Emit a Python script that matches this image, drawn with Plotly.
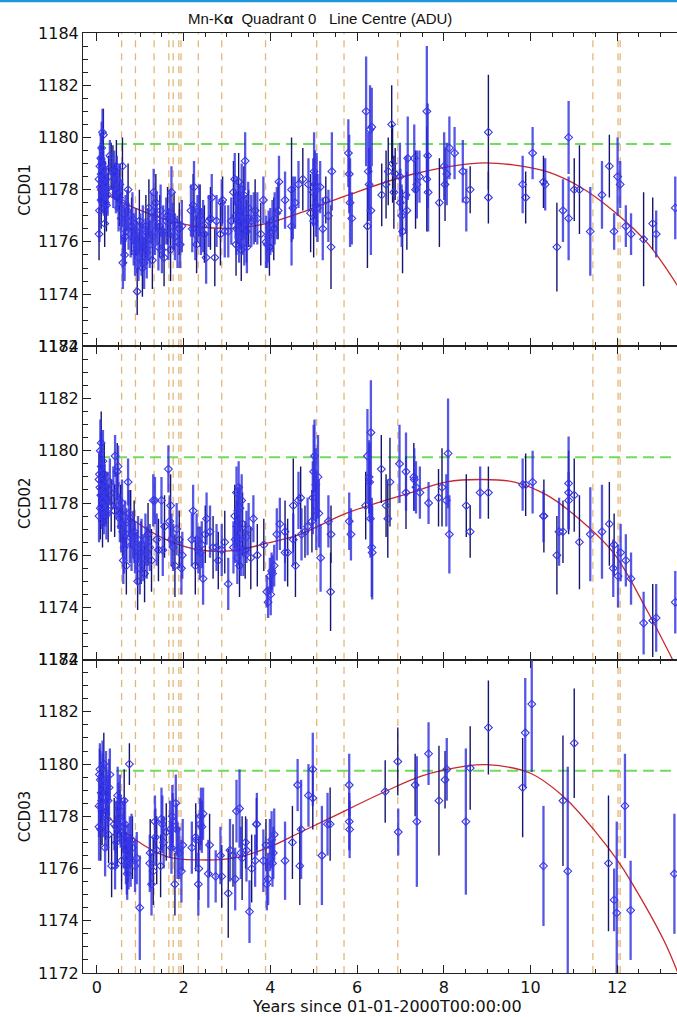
import plotly.graph_objects as go

# ---------------- data ----------------
X_RANGE = [-0.32, 13.38]
Y_RANGE = [1172, 1184]
reference_level = 1179.75
event_times = [0.57, 0.89, 1.32, 1.66, 1.76, 1.89, 1.94, 2.34, 2.88, 3.89,
               5.07, 5.70, 6.94, 11.44, 12.02, 12.07]
x_ticks = [0, 2, 4, 6, 8, 10, 12]
y_ticks = [1172, 1174, 1176, 1178, 1180, 1182, 1184]
panel_names = ["CCD01", "CCD02", "CCD03"]

# CCD01 -- set A
ccd01_a_t = [0.05, 0.06, 0.07, 0.08, 0.09, 0.10, 0.11, 0.12, 0.13, 0.14, 0.15, 0.16, 0.17, 0.19, 0.20, 0.22, 0.25, 0.30,
             0.38, 0.40, 0.42, 0.44, 0.46, 0.48, 0.50, 0.53, 0.56, 0.58, 0.60, 0.62, 0.64, 0.66, 0.70, 0.73,
             0.78, 0.82, 0.85, 0.88, 0.90, 0.93, 0.96, 1.00, 1.03, 1.06, 1.09, 1.12, 1.15, 1.18, 1.22, 1.26, 1.29,
             1.31, 1.34, 1.38, 1.42, 1.47, 1.50, 1.53, 1.60, 1.65, 1.68, 1.72, 1.75, 1.80, 1.86, 1.92, 1.96,
             2.17, 2.20, 2.24, 2.27, 2.32, 2.36, 2.40, 2.45, 2.52, 2.58, 2.65, 2.76, 2.88, 2.95,
             3.03, 3.10, 3.18, 3.20, 3.22, 3.24, 3.26, 3.28, 3.30, 3.32, 3.34, 3.36, 3.38, 3.40, 3.42, 3.44, 3.46, 3.49,
             3.56, 3.62, 3.70, 3.84, 3.90, 3.93, 3.96, 4.00, 4.05, 4.10, 4.15, 4.20,
             4.34, 4.49, 4.52, 4.57, 4.65, 4.88, 4.99, 5.01, 5.03, 5.05, 5.07, 5.09, 5.15, 5.21, 5.34, 5.42,
             5.80, 5.82, 5.84, 5.88, 6.21, 6.26, 6.28, 6.30, 6.32, 6.34,
             6.99, 7.00, 7.03, 7.13, 7.17, 7.32, 7.38, 7.44, 7.61, 7.63, 7.64,
             8.01, 8.07, 8.13, 8.25, 8.44, 8.52, 9.82, 10.05, 10.34, 10.75, 10.88, 10.88, 11.38,
             11.65, 11.93, 12.01, 12.07, 12.20, 12.32, 12.90, 13.34]
ccd01_a_v = [1178.4, 1177.2, 1178.9, 1178.1, 1179.2, 1178.6, 1179.6, 1178.3, 1180.2, 1178.0, 1178.8, 1177.8, 1178.5, 1178.2, 1177.5, 1178.0, 1177.8, 1179.3,
             1178.1, 1178.6, 1178.3, 1177.9, 1178.4, 1178.0, 1177.3, 1178.2, 1176.9, 1177.5, 1175.2, 1176.5, 1175.5, 1176.9, 1177.2, 1176.6,
             1176.3, 1176.9, 1176.1, 1175.6, 1176.4, 1175.8, 1175.4, 1176.1, 1175.7, 1176.5, 1175.2, 1176.0, 1175.6, 1176.3, 1175.9, 1176.9, 1176.2,
             1177.9, 1176.4, 1176.9, 1175.8, 1177.2, 1175.7, 1176.4, 1176.8, 1176.3, 1177.1, 1177.9, 1176.6, 1176.2, 1176.0, 1175.9, 1176.6,
             1177.2, 1176.5, 1178.1, 1176.3, 1176.9, 1177.2, 1176.4, 1176.6, 1175.4, 1176.8, 1177.7, 1176.8, 1177.5, 1176.4,
             1176.4, 1176.8, 1178.4, 1177.0, 1176.5, 1177.6, 1176.9, 1176.2, 1177.3, 1176.7, 1178.0, 1176.4, 1177.1, 1176.0, 1179.1, 1176.8, 1175.8, 1177.3,
             1176.8, 1176.9, 1176.9, 1177.6, 1176.0, 1175.9, 1176.2, 1176.4, 1176.6, 1176.9, 1177.1, 1178.3,
             1177.6, 1176.6, 1177.3, 1177.5, 1178.2, 1178.2, 1177.9, 1178.7, 1178.2, 1177.4, 1178.0, 1177.3, 1178.1, 1176.5, 1177.0, 1178.7,
             1179.4, 1178.6, 1177.5, 1176.9, 1181.0, 1178.7, 1178.2, 1180.3, 1177.2, 1180.4,
             1178.5, 1177.5, 1177.0, 1177.8, 1179.2, 1179.2, 1178.2, 1178.5, 1181.0, 1179.3, 1177.9,
             1178.9, 1178.6, 1179.6, 1179.4, 1178.7, 1177.6, 1178.2, 1179.4, 1178.2, 1177.2, 1180.0, 1176.9, 1176.4,
             1177.8, 1176.4, 1178.5, 1178.2, 1176.6, 1176.3, 1176.3, 1177.3]
ccd01_a_e = [0.9, 1.2, 0.8, 0.9, 0.9, 0.8, 1.0, 0.8, 0.9, 0.9, 0.7, 0.8, 0.7, 0.9, 0.8, 0.9, 0.8, 0.6,
             0.8, 0.9, 0.7, 0.8, 0.9, 0.8, 0.9, 0.8, 1.0, 0.9, 1.0, 0.9, 1.0, 0.9, 0.8, 0.9,
             0.9, 1.0, 1.0, 0.9, 0.9, 1.0, 0.9, 1.0, 1.0, 0.9, 1.0, 0.9, 1.0, 1.0, 0.9, 1.0, 0.9,
             0.9, 0.9, 1.0, 0.9, 1.0, 0.9, 1.0, 0.9, 1.0, 0.9, 1.0, 0.9, 0.9, 1.0, 0.9, 1.0,
             1.0, 0.9, 1.0, 1.0, 0.9, 1.0, 0.9, 1.0, 1.0, 1.0, 0.9, 1.0, 0.9, 1.0,
             1.0, 0.9, 1.0, 0.9, 1.0, 0.9, 1.0, 1.0, 0.9, 1.0, 1.0, 0.9, 1.0, 0.9, 1.1, 1.0, 1.0, 1.0,
             1.0, 1.0, 1.0, 0.9, 1.0, 0.9, 1.0, 0.9, 1.0, 1.0, 1.0, 1.0,
             1.1, 1.5, 1.2, 1.0, 0.9, 1.0, 1.3, 1.5, 1.3, 1.2, 1.4, 1.3, 1.0, 1.2, 1.0, 1.5,
             1.3, 1.5, 1.7, 1.0, 2.1, 1.5, 1.4, 1.7, 1.7, 1.5,
             1.3, 1.3, 1.2, 1.5, 1.6, 1.3, 1.3, 1.0, 2.5, 2.0, 1.5,
             1.3, 1.2, 1.2, 1.0, 1.2, 1.2, 1.1, 1.0, 1.0, 1.2, 1.4, 1.6, 1.7,
             1.3, 0.7, 1.5, 0.9, 0.8, 0.8, 0.9, 1.2]
# CCD01 -- set B
ccd01_b_t = [0.05, 0.10, 0.12, 0.15, 0.18, 0.22, 0.27, 0.33, 0.37, 0.45, 0.52, 0.59, 0.65, 0.72, 0.80, 0.93, 0.98,
             1.05, 1.13, 1.20, 1.28, 1.36, 1.45, 1.55, 1.63, 1.70, 1.78, 1.90, 2.22, 2.30, 2.38, 2.48, 2.62, 2.72,
             2.85, 2.90, 3.15, 3.21, 3.27, 3.33, 3.39, 3.45, 3.50, 3.65, 3.78, 3.98, 4.08, 4.18, 4.49, 4.75, 4.93,
             5.00, 5.28, 5.40, 6.24, 6.57, 6.67, 6.72, 6.80, 6.82, 6.85, 6.88, 7.05, 7.15, 7.35, 7.61, 7.90, 8.03,
             8.61, 9.03, 9.03, 9.89, 10.30, 10.61, 11.01, 11.13, 11.82, 12.61, 12.82]
ccd01_b_v = [1176.3, 1177.6, 1179.0, 1180.1, 1176.7, 1177.4, 1178.5, 1178.9, 1178.7, 1178.9, 1177.7, 1178.9, 1176.2, 1178.0, 1176.6, 1174.1, 1176.8,
             1175.0, 1176.6, 1177.3, 1175.3, 1177.5, 1176.6, 1175.4, 1177.0, 1175.7, 1176.8, 1176.5, 1177.4, 1175.9, 1177.0, 1176.3, 1176.9, 1175.4,
             1176.3, 1177.6, 1177.9, 1175.9, 1178.3, 1175.7, 1177.8, 1176.4, 1176.9, 1177.2, 1176.3, 1175.8, 1176.5, 1177.2, 1178.0, 1178.4, 1177.1,
             1176.8, 1177.6, 1175.8, 1176.6, 1177.8, 1178.2, 1178.7, 1180.5, 1179.0, 1177.9, 1178.6, 1176.4, 1177.2, 1178.0, 1178.4, 1177.5, 1178.2,
             1178.0, 1180.2, 1177.7, 1177.7, 1178.3, 1175.8, 1178.0, 1178.0, 1178.9, 1176.1, 1176.7]
ccd01_b_e = [1.0, 1.1, 1.0, 1.0, 0.9, 1.0, 0.8, 0.9, 1.0, 1.0, 1.1, 1.1, 1.1, 1.0, 1.1, 0.9, 1.2,
             1.1, 1.2, 1.1, 1.1, 1.1, 1.2, 1.1, 1.1, 1.2, 1.1, 1.0, 1.2, 1.1, 1.2, 1.1, 1.2, 1.1,
             1.2, 0.9, 1.2, 1.2, 1.1, 1.2, 1.1, 1.2, 1.1, 1.2, 1.2, 1.1, 1.2, 1.1, 2.0, 1.2, 1.5,
             1.4, 0.9, 1.6, 1.6, 1.2, 1.3, 1.3, 1.5, 1.5, 1.4, 1.0, 1.6, 1.5, 1.5, 2.0, 1.7, 1.4,
             0.9, 2.2, 1.0, 1.0, 1.0, 1.7, 1.2, 1.7, 1.2, 1.8, 1.0]
ccd01_fit_t = [0.0, 0.8, 1.6, 2.4, 3.2, 3.9, 4.7, 5.8, 7.3, 8.8, 9.6, 10.4, 11.15, 11.9, 12.7, 13.4]
ccd01_fit_v = [1178.0, 1177.35, 1176.85, 1176.57, 1176.53, 1176.7, 1177.12, 1177.8, 1178.6, 1179.02,
               1178.95, 1178.68, 1178.1, 1177.2, 1175.95, 1174.3]

# CCD02 -- set A
ccd02_a_t = [0.05, 0.06, 0.07, 0.08, 0.09, 0.10, 0.11, 0.12, 0.13, 0.14, 0.15, 0.16, 0.18, 0.20, 0.22, 0.25, 0.30,
             0.38, 0.42, 0.45, 0.49, 0.50, 0.53, 0.56, 0.58, 0.61, 0.63, 0.65, 0.68, 0.72, 0.74, 0.76, 0.80, 0.84,
             0.88, 0.92, 0.95, 0.99, 1.03, 1.07, 1.12, 1.15, 1.22, 1.30, 1.34, 1.38, 1.49, 1.52, 1.65, 1.68, 1.72,
             1.76, 1.84, 1.95, 1.97, 2.19, 2.22, 2.30, 2.34, 2.38, 2.42, 2.45, 2.53, 2.61, 2.76, 2.88, 3.03, 3.15,
             3.19, 3.22, 3.23, 3.24, 3.25, 3.27, 3.28, 3.30, 3.32, 3.34, 3.38, 3.45, 3.50, 3.61, 3.92, 3.95, 3.99,
             4.01, 4.03, 4.05, 4.09, 4.15, 4.22, 4.34, 4.53, 4.65, 4.72, 4.86, 4.98, 5.00, 5.02, 5.05, 5.06, 5.10,
             5.12, 5.16, 5.34, 5.82, 5.86, 6.24, 6.28, 6.29, 6.32, 6.31, 6.34, 6.35, 6.98, 7.13, 7.32, 7.36, 7.45,
             7.65, 8.06, 8.10, 8.13, 8.84, 9.82, 10.05, 10.30, 10.66, 10.88, 10.88, 11.38, 11.65, 11.91, 12.02,
             12.08, 12.20, 12.32, 12.61, 12.90, 13.34]
ccd02_a_v = [1177.5, 1179.1, 1178.6, 1180.0, 1178.3, 1179.4, 1178.8, 1177.9, 1178.4, 1179.6, 1178.1, 1177.7, 1178.5, 1178.0, 1177.6, 1178.3, 1178.8,
             1178.6, 1179.8, 1178.3, 1179.4, 1177.9, 1177.4, 1177.1, 1178.0, 1175.8, 1176.3, 1177.2, 1176.8, 1178.8, 1177.6, 1176.7, 1176.4, 1176.8,
             1176.3, 1175.9, 1176.6, 1175.5, 1176.4, 1175.9, 1176.6, 1176.1, 1176.3, 1178.1, 1178.1, 1176.6, 1178.1, 1176.2, 1179.3, 1177.3, 1176.6,
             1176.3, 1177.0, 1175.5, 1176.0, 1176.6, 1177.7, 1176.6, 1176.2, 1176.1, 1176.4, 1175.1, 1177.4, 1176.9, 1176.3, 1176.2, 1174.9, 1176.3,
             1176.6, 1178.4, 1177.1, 1175.9, 1177.7, 1178.6, 1176.6, 1177.8, 1176.2, 1178.1, 1176.1, 1176.7, 1177.0, 1177.4, 1174.6, 1174.2, 1175.2,
             1174.5, 1175.4, 1175.3, 1175.6, 1176.8, 1177.2, 1176.1, 1176.6, 1178.1, 1176.8, 1177.1, 1178.2, 1179.2, 1179.8, 1178.7, 1177.7, 1179.0,
             1177.6, 1175.9, 1177.3, 1177.3, 1176.8, 1179.8, 1179.0, 1178.8, 1180.7, 1177.4, 1176.3, 1176.1, 1179.5, 1179.2, 1178.9, 1178.6, 1178.4,
             1178.0, 1178.1, 1179.9, 1176.8, 1178.4, 1178.7, 1178.8, 1177.5, 1176.9, 1178.1, 1178.75, 1176.8, 1176.9, 1175.5, 1175.2,
             1176.1, 1175.8, 1175.1, 1173.4, 1173.6, 1174.2]
ccd02_a_e = [1.0, 0.9, 1.0, 1.2, 0.9, 1.3, 1.0, 0.9, 1.1, 1.2, 1.0, 0.9, 1.0, 0.9, 1.0, 0.9, 0.9,
             0.8, 0.8, 0.9, 0.8, 0.9, 0.9, 1.0, 0.9, 0.9, 1.0, 0.9, 1.0, 0.9, 0.9, 1.0, 1.0, 0.9,
             1.0, 1.0, 0.9, 1.0, 1.0, 0.9, 1.0, 1.0, 0.9, 1.0, 0.9, 1.0, 0.9, 1.0, 0.9, 1.0, 1.0,
             0.9, 1.0, 1.0, 0.9, 1.0, 1.0, 1.0, 0.9, 1.0, 0.9, 1.0, 1.0, 1.0, 0.9, 1.0, 1.0, 1.0,
             0.9, 1.0, 1.0, 1.0, 0.9, 1.0, 1.0, 0.9, 1.0, 1.0, 0.9, 1.0, 1.0, 0.9, 0.6, 0.6, 0.7,
             0.8, 0.7, 0.7, 0.8, 1.0, 1.0, 1.1, 1.0, 1.1, 1.0, 1.1, 1.4, 1.8, 1.4, 1.4, 1.5, 1.6,
             1.3, 1.3, 1.0, 1.1, 1.0, 1.8, 1.4, 1.5, 2.0, 1.5, 1.9, 1.8, 1.5, 1.5, 1.2, 1.0, 1.0,
             0.8, 1.0, 2.1, 1.5, 1.0, 1.0, 1.2, 1.0, 1.3, 1.1, 1.8, 1.8, 1.8, 1.1, 1.2,
             1.1, 1.0, 1.0, 1.2, 1.3, 1.2]
# CCD02 -- set B
ccd02_b_t = [0.05, 0.08, 0.10, 0.13, 0.17, 0.21, 0.26, 0.33, 0.41, 0.47, 0.55, 0.60, 0.68, 0.78, 0.86, 0.94, 1.02,
             1.10, 1.18, 1.26, 1.42, 1.56, 1.70, 1.80, 1.90, 2.27, 2.50, 2.68, 2.80, 2.95, 3.18, 3.29, 3.36, 3.42,
             3.55, 3.70, 3.85, 4.34, 4.40, 4.53, 4.58, 4.70, 4.80, 4.96, 5.40, 5.39, 6.20, 6.56, 6.67, 6.71, 6.76,
             7.13, 7.31, 7.88, 7.96, 8.52, 8.61, 9.03, 9.89, 10.31, 10.61, 10.75, 10.88, 11.01, 11.13, 11.82, 11.93, 12.82]
ccd02_b_v = [1178.9, 1177.8, 1180.3, 1177.3, 1179.1, 1178.2, 1177.6, 1177.9, 1177.7, 1179.2, 1177.6, 1176.9, 1175.6, 1177.4, 1176.9, 1175.0, 1176.1,
             1175.3, 1176.8, 1175.8, 1176.2, 1177.1, 1177.9, 1175.6, 1176.6, 1175.6, 1176.8, 1176.3, 1175.8, 1176.5, 1177.5, 1175.6, 1177.2, 1176.2,
             1175.9, 1176.0, 1176.4, 1176.9, 1176.1, 1177.9, 1175.6, 1178.2, 1176.9, 1177.3, 1176.8, 1174.6, 1177.9, 1179.3, 1177.9, 1177.4, 1178.8,
             1178.4, 1179.0, 1178.2, 1178.6, 1177.9, 1176.9, 1178.4, 1178.7, 1177.5, 1176.0, 1176.9, 1178.4, 1178.3, 1176.5, 1177.2, 1176.4, 1173.5]
ccd02_b_e = [1.0, 1.2, 1.2, 1.0, 1.2, 1.0, 1.1, 1.0, 1.0, 1.1, 1.1, 1.0, 1.1, 1.1, 1.2, 1.1, 1.2,
             1.1, 1.2, 1.2, 1.2, 1.2, 1.2, 1.2, 1.1, 1.1, 1.1, 1.2, 1.1, 1.2, 1.2, 1.2, 1.2, 1.1,
             1.2, 1.2, 1.0, 1.2, 1.3, 1.8, 1.2, 1.2, 1.0, 1.2, 1.1, 1.5, 1.3, 1.3, 1.2, 1.5, 1.7,
             1.4, 1.3, 1.1, 1.5, 1.2, 1.0, 1.0, 1.2, 1.4, 1.5, 1.2, 1.6, 1.4, 1.8, 1.6, 1.2, 1.4]
ccd02_fit_t = [0.0, 0.84, 1.61, 2.38, 3.15, 3.92, 4.68, 5.76, 7.3, 8.07, 8.84, 9.61, 10.38, 11.15, 11.92, 12.68, 13.4]
ccd02_fit_v = [1178.55, 1177.35, 1176.59, 1176.2, 1176.18, 1176.46, 1176.8, 1177.61, 1178.43, 1178.81,
               1178.9, 1178.81, 1178.3, 1177.35, 1176.08, 1173.91, 1171.6]

# CCD03 -- set A
ccd03_a_t = [0.05, 0.05, 0.07, 0.08, 0.10, 0.11, 0.13, 0.14, 0.15, 0.19, 0.21, 0.22, 0.24, 0.26, 0.28, 0.30,
             0.42, 0.44, 0.45, 0.48, 0.50, 0.52, 0.53, 0.55, 0.61, 0.62, 0.65, 0.66, 0.67, 0.69, 0.70, 0.72, 0.73,
             0.76, 0.78, 0.80, 0.88, 0.92, 0.99, 1.22, 1.26, 1.34, 1.35, 1.49, 1.51, 1.54, 1.69, 1.72, 1.74, 1.75,
             1.82, 1.84, 1.86, 1.90, 1.95, 1.98, 2.19, 2.29, 2.34, 2.38, 2.40, 2.42, 2.45, 2.57, 2.74, 2.85, 3.07,
             3.19, 3.22, 3.29, 3.32, 3.45, 3.52, 3.65, 3.69, 3.84, 3.92, 3.95, 3.99, 4.03, 4.05, 4.07, 4.09, 4.34,
             4.63, 4.71, 4.88, 4.98, 5.19, 5.32, 5.82, 5.82, 5.83, 6.95, 7.38, 7.65, 8.07, 8.51, 9.88, 10.03,
             10.30, 10.86, 11.93, 11.99, 12.18, 12.31, 13.32]
ccd03_a_v = [1178.4, 1177.6, 1179.8, 1179.4, 1178.9, 1178.6, 1179.9, 1179.3, 1178.4, 1176.8, 1179.4, 1178.9, 1177.9, 1178.6, 1179.1, 1179.6,
             1176.1, 1177.6, 1177.0, 1178.8, 1178.3, 1178.0, 1178.5, 1177.8, 1177.6, 1177.1, 1177.7, 1176.8, 1176.4, 1176.1, 1175.8, 1176.6, 1176.2,
             1177.0, 1176.3, 1177.1, 1176.1, 1176.4, 1174.5, 1176.2, 1175.4, 1177.8, 1177.2, 1177.9, 1177.7, 1177.0, 1177.5, 1176.8, 1178.0, 1177.8,
             1178.5, 1177.5, 1176.7, 1176.6, 1175.9, 1176.9, 1176.8, 1177.1, 1175.4, 1177.7, 1178.0, 1177.6, 1178.1, 1175.8, 1175.7, 1176.5, 1176.7,
             1175.6, 1178.2, 1178.3, 1176.6, 1176.7, 1174.35, 1176.3, 1177.7, 1176.3, 1175.4, 1175.6, 1176.9, 1177.1, 1176.2, 1176.6, 1177.3, 1176.3,
             1179.2, 1177.5, 1178.8, 1179.8, 1176.5, 1177.7, 1179.2, 1177.8, 1177.5, 1177.4, 1177.8, 1180.4, 1179.8, 1177.8, 1181.2, 1182.3,
             1176.1, 1175.9, 1174.8, 1174.3, 1178.4, 1174.4, 1175.8]
ccd03_a_e = [1.2, 1.3, 1.0, 1.1, 1.0, 1.2, 1.0, 1.1, 1.2, 1.1, 1.1, 1.0, 1.2, 1.0, 1.1, 1.0,
             0.9, 1.0, 1.0, 1.1, 1.0, 1.0, 1.1, 1.0, 1.0, 1.1, 1.0, 1.0, 1.0, 1.1, 1.0, 1.1, 1.0,
             1.0, 1.0, 1.0, 1.0, 1.0, 2.0, 1.1, 1.2, 1.0, 1.1, 1.2, 1.1, 1.0, 1.1, 1.0, 1.2, 1.1,
             1.1, 1.0, 1.1, 1.0, 1.2, 1.0, 1.0, 1.0, 1.2, 1.0, 1.1, 1.0, 1.0, 1.3, 1.0, 1.1, 1.2,
             1.2, 1.2, 1.5, 1.0, 1.2, 1.2, 1.0, 1.2, 1.2, 1.0, 1.0, 1.0, 1.1, 0.9, 1.0, 1.0, 1.5,
             1.0, 1.9, 1.2, 1.4, 1.9, 1.2, 1.2, 1.1, 1.1, 0.9, 2.5, 1.2, 1.2, 2.8, 2.1, 2.6,
             2.3, 4.0, 1.2, 3.5, 2.0, 1.9, 2.3]
# CCD03 -- set B
ccd03_b_t = [0.06, 0.09, 0.12, 0.16, 0.20, 0.27, 0.34, 0.40, 0.47, 0.57, 0.63, 0.75, 0.82, 1.23, 1.30, 1.38, 1.47,
             1.60, 1.80, 2.28, 2.35, 2.60, 2.88, 3.03, 3.14, 3.35, 3.43, 3.57, 3.68, 3.90, 4.51, 4.68, 4.98, 5.38,
             6.65, 6.94, 7.34, 7.89, 8.03, 8.61, 9.03, 9.82, 10.75, 11.01, 11.80]
ccd03_b_v = [1179.6, 1177.5, 1178.2, 1180.0, 1178.1, 1177.3, 1176.1, 1177.7, 1177.3, 1176.3, 1178.6, 1180.0, 1176.8, 1176.6, 1175.9, 1176.7, 1176.1,
             1177.4, 1175.4, 1177.2, 1176.0, 1176.9, 1175.7, 1175.05, 1176.5, 1176.4, 1177.0, 1176.0, 1177.7, 1176.9, 1177.0, 1176.1, 1178.7, 1177.7,
             1178.95, 1180.1, 1179.2, 1178.6, 1179.4, 1179.85, 1181.4, 1179.1, 1178.6, 1180.8, 1176.2]
ccd03_b_e = [1.0, 1.2, 1.3, 1.2, 1.0, 1.1, 1.2, 1.0, 1.2, 1.1, 1.2, 0.8, 1.2, 1.3, 1.3, 1.3, 1.2,
             1.1, 1.2, 1.3, 1.2, 1.2, 1.2, 1.7, 1.2, 1.6, 1.0, 1.3, 1.0, 1.0, 1.4, 1.5, 1.2, 1.4,
             1.2, 1.3, 1.2, 2.1, 1.1, 1.6, 1.8, 1.9, 2.5, 2.1, 2.6]
ccd03_fit_t = [0.0, 0.84, 1.61, 2.38, 3.15, 3.92, 4.68, 5.4, 6.65, 7.5, 8.5, 9.0, 10.0, 10.76, 11.53, 12.0, 12.3, 13.07, 13.4]
ccd03_fit_v = [1178.4, 1177.16, 1176.46, 1176.33, 1176.4, 1176.78, 1177.38, 1177.95, 1178.95, 1179.55, 1179.92,
               1179.98, 1179.65, 1178.76, 1177.35, 1176.33, 1175.56, 1173.27, 1172.0]

# ---------------- figure ----------------
FONT = "DejaVu Sans"
TITLE_FONT = "Liberation Sans"
AXIS_COLOR = "#222222"
panels = [
    (ccd01_a_t, ccd01_a_v, ccd01_a_e, ccd01_b_t, ccd01_b_v, ccd01_b_e, ccd01_fit_t, ccd01_fit_v),
    (ccd02_a_t, ccd02_a_v, ccd02_a_e, ccd02_b_t, ccd02_b_v, ccd02_b_e, ccd02_fit_t, ccd02_fit_v),
    (ccd03_a_t, ccd03_a_v, ccd03_a_e, ccd03_b_t, ccd03_b_v, ccd03_b_e, ccd03_fit_t, ccd03_fit_v),
]
domains = [[2 / 3, 1.0], [1 / 3, 2 / 3], [0.0, 1 / 3]]

fig = go.Figure()
layout = dict(
    width=677, height=1017,
    margin=dict(l=83, r=0, t=33, b=44),
    paper_bgcolor="white", plot_bgcolor="white",
    showlegend=False,
    font=dict(family=FONT, size=15, color="#111111"),
)

shapes = []
annotations = []
for i, (at, av, ae, bt, bv, be, ft, fv) in enumerate(panels):
    sfx = "" if i == 0 else str(i + 1)
    xa, ya = "x" + sfx, "y" + sfx
    fig.add_trace(go.Scatter(x=ft, y=fv, mode="lines", xaxis=xa, yaxis=ya,
                             line=dict(color="#c8282c", width=1.3, shape="spline", smoothing=1.0),
                             hoverinfo="skip"))
    fig.add_trace(go.Scatter(x=bt, y=bv, mode="markers", xaxis=xa, yaxis=ya,
                             marker=dict(symbol="diamond-open", size=6, color="#3a3ae6", line=dict(width=1.1)),
                             error_y=dict(type="data", array=be, visible=True, width=0,
                                          thickness=1.4, color="#15156e")))
    fig.add_trace(go.Scatter(x=at, y=av, mode="markers", xaxis=xa, yaxis=ya,
                             marker=dict(symbol="diamond-open", size=6, color="#3a3ae6", line=dict(width=1.1)),
                             error_y=dict(type="data", array=ae, visible=True, width=0,
                                          thickness=2.3, color="rgba(45,45,225,0.8)")))
    last = (i == 2)
    layout["xaxis" + sfx] = dict(
        domain=[0, 1], anchor=ya, range=X_RANGE, tickvals=x_ticks,
        showticklabels=last, ticks="inside", ticklen=8, tickwidth=1, tickcolor=AXIS_COLOR,
        minor=dict(dtick=0.5, tick0=0, ticks="inside", ticklen=4, tickwidth=1, tickcolor=AXIS_COLOR),
        showline=True, linecolor=AXIS_COLOR, linewidth=1, mirror="ticks",
        showgrid=False, zeroline=False, tickfont=dict(size=16, family=FONT, color="#111111"),
        ticklabelstandoff=0,
    )
    if not last:
        layout["xaxis" + sfx]["matches"] = "x3"
    layout["yaxis" + sfx] = dict(
        domain=domains[i], anchor=xa, range=Y_RANGE, tickvals=y_ticks,
        ticks="inside", ticklen=8, tickwidth=1, tickcolor=AXIS_COLOR,
        minor=dict(dtick=0.5, tick0=1172, ticks="inside", ticklen=5, tickwidth=1, tickcolor=AXIS_COLOR),
        showline=True, linecolor=AXIS_COLOR, linewidth=1, mirror=False,
        showgrid=False, zeroline=False, tickfont=dict(size=16, family=FONT, color="#111111"),
    )
    for t in event_times:
        shapes.append(dict(type="line", xref=xa, yref=ya + " domain", x0=t, x1=t, y0=0, y1=1,
                           line=dict(color="rgba(222,170,100,0.85)", width=1.3, dash="7px,6px"),
                           layer="below"))
    shapes.append(dict(type="line", xref=xa, yref=ya, x0=min(at + bt), x1=X_RANGE[1],
                       y0=reference_level, y1=reference_level,
                       line=dict(color="#6fdc5a", width=2, dash="11px,6px"), layer="below"))
    annotations.append(dict(text=panel_names[i], xref="paper", yref="paper",
                            x=(25 - 83) / 594, y=sum(domains[i]) / 2, textangle=-90,
                            showarrow=False, xanchor="center", yanchor="middle",
                            font=dict(size=15, family=FONT)))

annotations.append(dict(text="Mn-K<b>α</b>  Quadrant 0   Line Centre (ADU)", xref="paper", yref="paper",
                        x=(320 - 83) / 594, y=1 + 15 / 940, showarrow=False,
                        xanchor="center", yanchor="middle", font=dict(size=15, family=TITLE_FONT)))
annotations.append(dict(text="Years since 01-01-2000T00:00:00", xref="paper", yref="paper",
                        x=(387 - 83) / 594, y=-33 / 940, showarrow=False,
                        xanchor="center", yanchor="middle", font=dict(size=16, family=FONT)))
shapes.append(dict(type="line", xref="paper", yref="paper", x0=-0.2, x1=1.05,
                   y0=1 + 32 / 940, y1=1 + 32 / 940, line=dict(color="#1e96dc", width=2.5)))

layout["shapes"] = shapes
layout["annotations"] = annotations
fig.update_layout(**layout)
fig.write_html("out.html")
